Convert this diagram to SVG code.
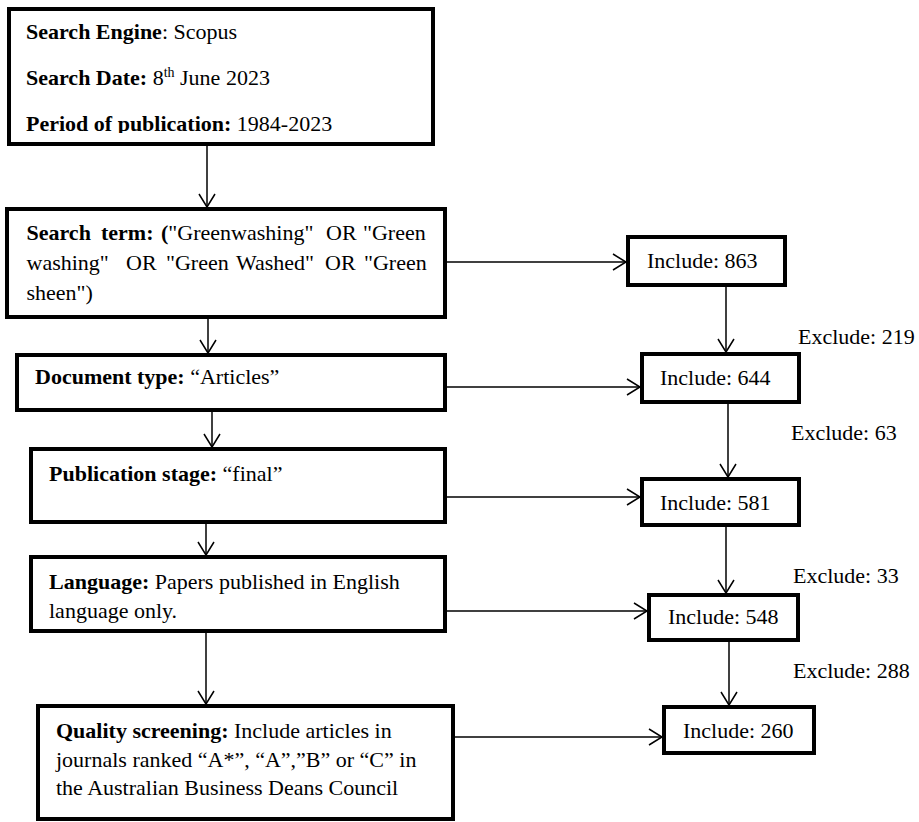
<svg xmlns="http://www.w3.org/2000/svg" width="919" height="822" viewBox="0 0 919 822">
<style>
text{font-family:"Liberation Serif","Times New Roman",serif;font-size:22px;fill:#000}
.b{font-weight:bold}
.box{fill:#fff;stroke:#000;stroke-width:4}
.c line{stroke:#000;stroke-width:1.5;marker-end:url(#ah)}
</style>
<defs>
<marker id="ah" markerUnits="userSpaceOnUse" markerWidth="20" markerHeight="20" viewBox="-15 -10 17 20" refX="0" refY="0" orient="auto">
<path d="M-13,-8 L0,0 L-13,8" fill="none" stroke="#000" stroke-width="1.5"/>
</marker>
<clipPath id="cp1"><rect x="11" y="11" width="420" height="122"/></clipPath>
<clipPath id="cp6"><rect x="40" y="708" width="411" height="100"/></clipPath>
</defs>
<g class="c">
<line x1="207" y1="146" x2="207" y2="207"/>
<line x1="208" y1="319" x2="208" y2="353"/>
<line x1="212" y1="412" x2="212" y2="447"/>
<line x1="206" y1="524" x2="206" y2="555"/>
<line x1="206" y1="633" x2="206" y2="704"/>
<line x1="447" y1="262" x2="626" y2="262"/>
<line x1="447" y1="387" x2="640" y2="387"/>
<line x1="447" y1="497" x2="640" y2="497"/>
<line x1="447" y1="611" x2="647" y2="611"/>
<line x1="455" y1="737" x2="662" y2="737"/>
<line x1="726" y1="287" x2="726" y2="352"/>
<line x1="728" y1="404" x2="728" y2="477"/>
<line x1="726" y1="527" x2="726" y2="593"/>
<line x1="729" y1="642" x2="729" y2="705"/>
</g>
<g id="search-engine">
<rect class="box" x="9" y="9" width="424" height="135"/>
<g clip-path="url(#cp1)">
<text x="26" y="39"><tspan class="b">Search Engine</tspan>: Scopus</text>
<text x="26" y="85"><tspan class="b">Search Date:</tspan> 8<tspan font-size="14" dy="-8">th</tspan><tspan dy="8"> June 2023</tspan></text>
<text x="26" y="131"><tspan class="b">Period of publication:</tspan> 1984-2023</text>
</g>
</g>
<g id="search-term">
<rect class="box" x="7" y="209" width="438" height="108"/>
<text y="240"><tspan class="b" x="26.5">Search</tspan><tspan class="b" x="101">term:</tspan><tspan class="b" x="161">(</tspan>"Greenwashing"<tspan x="326">OR</tspan><tspan x="363">"Green</tspan></text>
<text y="270"><tspan x="26.5">washing"</tspan><tspan x="126">OR</tspan><tspan x="166">"Green</tspan><tspan x="236">Washed"</tspan><tspan x="325">OR</tspan><tspan x="364">"Green</tspan></text>
<text x="26.5" y="300">sheen")</text>
</g>
<g id="document-type">
<rect class="box" x="17" y="355" width="428" height="55"/>
<text x="35" y="384"><tspan class="b">Document type:</tspan> “Articles”</text>
</g>
<g id="publication-stage">
<rect class="box" x="31" y="449" width="414" height="73"/>
<text x="49" y="481"><tspan class="b">Publication stage:</tspan> “final”</text>
</g>
<g id="language">
<rect class="box" x="31" y="557" width="414" height="74"/>
<text x="49" y="589"><tspan class="b">Language:</tspan> Papers published in English</text>
<text x="49" y="618">language only.</text>
</g>
<g id="quality-screening">
<rect class="box" x="38" y="706" width="415" height="113"/>
<g clip-path="url(#cp6)">
<text x="56" y="738"><tspan class="b">Quality screening:</tspan> Include articles in</text>
<text x="56" y="767">journals ranked “A*”, “A”,”B” or “C” in</text>
<text x="56" y="795">the Australian Business Deans Council</text>
</g>
</g>
<g id="include-863">
<rect class="box" x="628" y="237" width="157" height="48"/>
<text x="647" y="268">Include: 863</text>
</g>
<g id="include-644">
<rect class="box" x="642" y="354" width="157" height="48"/>
<text x="660" y="385">Include: 644</text>
</g>
<g id="include-581">
<rect class="box" x="642" y="479" width="157" height="46"/>
<text x="660" y="510">Include: 581</text>
</g>
<g id="include-548">
<rect class="box" x="649" y="595" width="149" height="45"/>
<text x="668" y="624">Include: 548</text>
</g>
<g id="include-260">
<rect class="box" x="664" y="707" width="150" height="46"/>
<text x="683" y="738">Include: 260</text>
</g>
<g id="exclude-labels">
<text x="798" y="344">Exclude: 219</text>
<text x="791" y="440">Exclude: 63</text>
<text x="793" y="583">Exclude: 33</text>
<text x="793" y="678">Exclude: 288</text>
</g>
</svg>
